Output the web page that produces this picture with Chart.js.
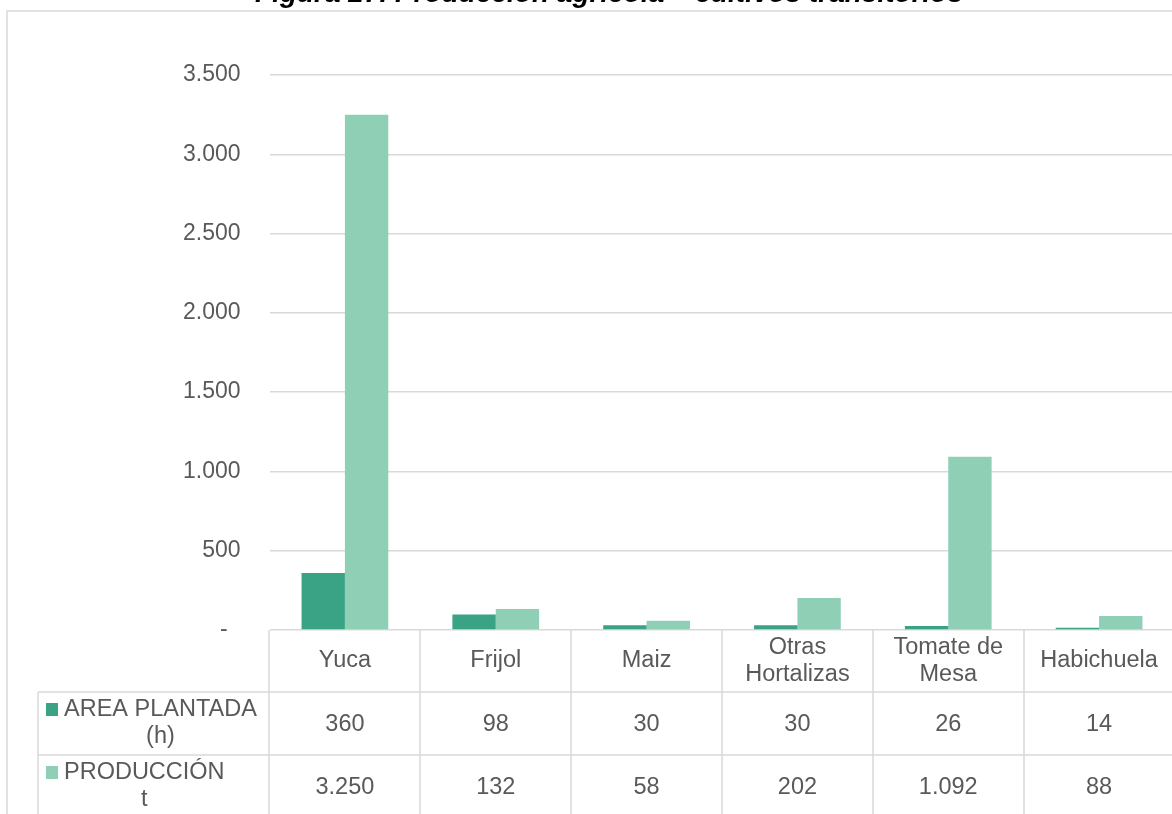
<!DOCTYPE html>
<html>
<head>
<meta charset="utf-8">
<script src="https://cdn.jsdelivr.net/npm/chart.js@4"></script>
<style>
  html, body { margin: 0; padding: 0; background: #fff; overflow: hidden; }
  #wrap { width: 1172px; height: 814px; overflow: hidden; position: relative; }
  canvas { display: block; }
</style>
</head>
<body>
<div id="wrap"><canvas id="grafico" width="1176" height="814"></canvas></div>
<script>
// datos
const titulo = "Figura 27. Producción agrícola – cultivos transitorios";
const cultivos = ["Yuca", "Frijol", "Maiz", "Otras Hortalizas", "Tomate de Mesa", "Habichuela"];
const areaPlantada = [360, 98, 30, 30, 26, 14];
const produccion = [3250, 132, 58, 202, 1092, 88];
const nombresSeries = [["AREA PLANTADA", "(h)"], ["PRODUCCIÓN", "t"]];
const coloresSeries = ["#3aa385", "#8fcfb6"];
const ejeMax = 3500;
const ejePaso = 500;

const gris = "#595959";
const linea = "#d9d9d9";
const fuente = '23.5px "Liberation Sans", Arial, sans-serif';

function formato(v) {
  return String(v).replace(/\B(?=(\d{3})+(?!\d))/g, ".");
}

function partir(ctx, texto, ancho) {
  const palabras = texto.split(" ");
  const lineas = [];
  let actual = "";
  palabras.forEach(p => {
    const prueba = actual ? actual + " " + p : p;
    if (actual && ctx.measureText(prueba).width > ancho) {
      lineas.push(actual);
      actual = p;
    } else {
      actual = prueba;
    }
  });
  lineas.push(actual);
  return lineas;
}

// borde, titulo y tabla de datos
const tablaPlugin = {
  id: "tabla",
  beforeDraw(chart) {
    const ctx = chart.ctx;
    ctx.save();
    ctx.strokeStyle = linea;
    ctx.lineWidth = 1.5;
    ctx.beginPath();
    ctx.moveTo(7, 900);
    ctx.lineTo(7, 11);
    ctx.lineTo(1300, 11);
    ctx.stroke();

    ctx.fillStyle = "#000";
    ctx.font = 'italic bold 28px "Liberation Sans", Arial, sans-serif';
    ctx.textAlign = "center";
    ctx.textBaseline = "alphabetic";
    ctx.fillText(titulo, 609, 2);
    ctx.restore();
  },
  afterDraw(chart) {
    const ctx = chart.ctx;
    const x = chart.scales.x;
    const area = chart.chartArea;
    const n = cultivos.length;
    const w = (area.right - area.left) / n;
    const top = area.bottom;
    const fila1 = top + 62;
    const fila2 = top + 125;
    const fondo = 814;
    const izq = 38;

    ctx.save();
    ctx.strokeStyle = linea;
    ctx.lineWidth = 1.5;
    ctx.beginPath();
    for (let i = 0; i <= n; i++) {
      const px = Math.round(x.getPixelForValue(i) - w / 2);
      ctx.moveTo(px, top);
      ctx.lineTo(px, fondo);
    }
    ctx.moveTo(izq, fila1);
    ctx.lineTo(izq, fondo);
    ctx.moveTo(izq, fila1);
    ctx.lineTo(area.right, fila1);
    ctx.moveTo(izq, fila2);
    ctx.lineTo(area.right, fila2);
    ctx.stroke();

    ctx.fillStyle = gris;
    ctx.font = fuente;
    ctx.textAlign = "center";
    ctx.textBaseline = "middle";
    const alto = 27;

    // nombres de cultivos
    cultivos.forEach((c, i) => {
      const cx = x.getPixelForValue(i);
      const lineas = partir(ctx, c, w - 12);
      const y0 = (top + fila1) / 2 - (lineas.length - 1) * alto / 2;
      lineas.forEach((l, k) => ctx.fillText(l, cx, y0 + k * alto));
    });

    // filas de valores
    const filas = [
      { datos: areaPlantada, y: (fila1 + fila2) / 2 },
      { datos: produccion, y: (fila2 + fondo + 4) / 2 }
    ];
    filas.forEach((f, s) => {
      f.datos.forEach((v, i) => {
        ctx.fillText(formato(v), x.getPixelForValue(i), f.y + 1);
      });

      // leyenda
      const lineas = nombresSeries[s];
      const bw = Math.max(...lineas.map(l => ctx.measureText(l).width));
      const y0 = f.y - (lineas.length - 1) * alto / 2;
      ctx.fillStyle = coloresSeries[s];
      ctx.fillRect(46, y0 - 7, 12, 13);
      ctx.fillStyle = gris;
      lineas.forEach((l, k) => ctx.fillText(l, 64 + bw / 2, y0 + k * alto));
    });
    ctx.restore();
  }
};

new Chart(document.getElementById("grafico"), {
  type: "bar",
  data: {
    labels: cultivos,
    datasets: [
      {
        label: nombresSeries[0].join(" "),
        data: areaPlantada,
        backgroundColor: coloresSeries[0],
        categoryPercentage: 0.575,
        barPercentage: 1
      },
      {
        label: nombresSeries[1].join(" "),
        data: produccion,
        backgroundColor: coloresSeries[1],
        categoryPercentage: 0.575,
        barPercentage: 1
      }
    ]
  },
  options: {
    responsive: false,
    animation: false,
    layout: { padding: { top: 75, bottom: 184, left: 0, right: 1.5 } },
    plugins: {
      legend: { display: false },
      tooltip: { enabled: false }
    },
    scales: {
      x: { display: false },
      y: {
        min: 0,
        max: ejeMax,
        afterFit: s => { s.width = 269.5; },
        border: { display: false },
        grid: { color: linea, lineWidth: 1.5, drawTicks: false },
        ticks: {
          stepSize: ejePaso,
          padding: 29,
          color: gris,
          font: { family: '"Liberation Sans", Arial, sans-serif', size: 23 },
          callback: v => v === 0 ? "-  " : formato(v)
        }
      }
    }
  },
  plugins: [tablaPlugin]
});
</script>
</body>
</html>
